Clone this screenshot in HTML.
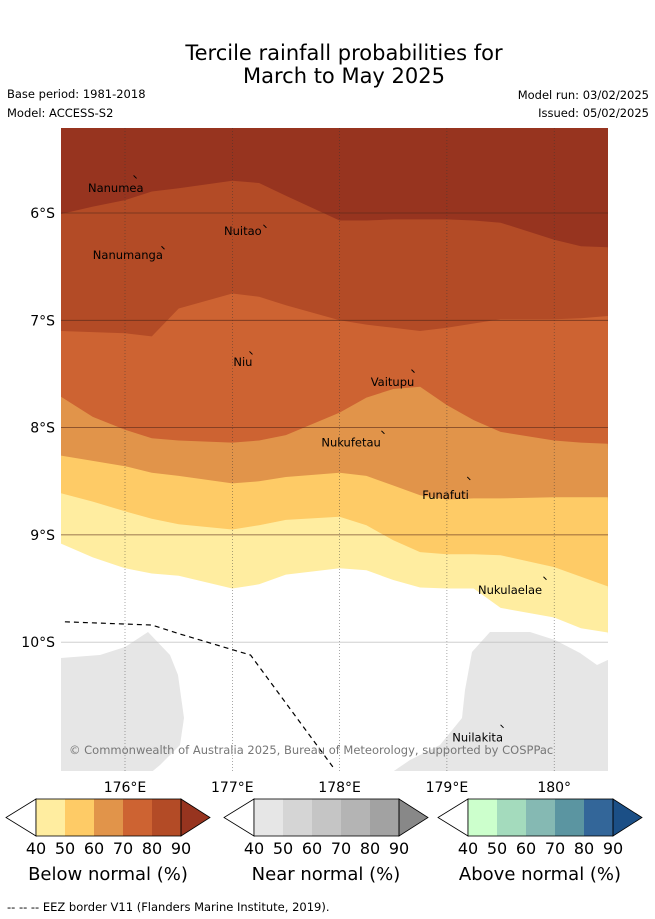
<!DOCTYPE html>
<html><head><meta charset="utf-8">
<style>
body{margin:0;background:#fff;font-family:"Liberation Sans","DejaVu Sans",sans-serif;}
svg{display:block}
text{font-family:"DejaVu Sans","Liberation Sans",sans-serif;}
</style></head>
<body>
<svg id="chart" width="655" height="919" viewBox="0 0 655 919">
<rect width="655" height="919" fill="#fff"/>
<text x="344" y="60" font-size="21" text-anchor="middle">Tercile rainfall probabilities for</text>
<text x="344" y="83" font-size="21" text-anchor="middle">March to May 2025</text>
<text x="7" y="98" font-size="11.5">Base period: 1981-2018</text>
<text x="7" y="117" font-size="11.5">Model: ACCESS-S2</text>
<text x="649" y="99" font-size="11.5" text-anchor="end">Model run: 03/02/2025</text>
<text x="649" y="117" font-size="11.5" text-anchor="end">Issued: 05/02/2025</text>
<defs><clipPath id="mapclip"><rect x="61" y="128" width="547" height="643"/></clipPath></defs>
<g id="map" clip-path="url(#mapclip)"></g>
<g id="axes"></g>
<g id="bars"></g>
<text x="7" y="911" font-size="11.5">-- -- -- EEZ border V11 (Flanders Marine Institute, 2019).</text>
</svg>
<script>
// ---- data ----
const lons = [175.4,175.7,176,176.25,176.5,177,177.25,177.5,178,178.25,178.5,178.75,179,179.25,179.5,180,180.25,180.5];
const b90 = [6.01,5.94,5.88,5.80,5.77,5.70,5.72,5.84,6.07,6.07,6.06,6.06,6.06,6.07,6.09,6.25,6.31,6.32];
const b80 = [7.10,7.11,7.12,7.15,6.89,6.75,6.78,6.86,7.00,7.04,7.07,7.10,7.07,7.03,6.99,6.99,6.98,6.96];
const b70 = [7.71,7.90,8.02,8.10,8.12,8.14,8.12,8.07,7.86,7.72,7.64,7.62,7.79,7.93,8.04,8.12,8.14,8.15];
const b60 = [8.26,8.31,8.36,8.42,8.45,8.52,8.50,8.46,8.42,8.45,8.54,8.63,8.67,8.66,8.66,8.65,8.65,8.65];
const b50 = [8.61,8.69,8.78,8.85,8.90,8.95,8.91,8.86,8.83,8.91,9.05,9.16,9.18,9.18,9.19,9.30,9.39,9.48];
const b40 = [9.08,9.21,9.31,9.36,9.38,9.50,9.46,9.37,9.31,9.33,9.42,9.49,9.50,9.50,9.68,9.77,9.87,9.91];
const lonTicks = [176,177,178,179,180];
const lonTickLabels = ["176°E","177°E","178°E","179°E","180°"];
const latTicks = [6,7,8,9,10];
const latTickLabels = ["6°S","7°S","8°S","9°S","10°S"];
const levels = ["40","50","60","70","80","90"];
const islands = ["Nanumea","Nuitao","Nanumanga","Niu","Vaitupu","Nukufetau","Funafuti","Nukulaelae","Nuilakita"];
const islandLon = [176.08,177.29,176.34,177.16,178.67,178.39,179.19,179.9,179.5];
const islandLat = [5.65,6.11,6.31,7.29,7.46,8.03,8.46,9.39,10.77];
const labelLon = [175.655,176.923,175.70,177.01,178.29,177.83,178.77,179.29,179.05];
const labelLat = [5.767,6.168,6.39,7.39,7.575,8.14,8.63,9.515,10.89];
const eezLon = [175.44,176.25,176.5,177.17,177.95];
const eezLat = [9.81,9.84,9.92,10.12,11.18];

const X = lon => 125 + (lon-176)*107.3;
const Y = lat => 213 + (lat-6)*107.3;
const NS="http://www.w3.org/2000/svg";
function mk(tag,attrs,parent){const e=document.createElementNS(NS,tag);for(const k in attrs)e.setAttribute(k,attrs[k]);parent.appendChild(e);return e;}
const map=document.getElementById('map');
const bands=[b90,b80,b70,b60,b50,b40];
const cols=["#b34b26","#cd6332","#e1944a","#fecb66","#ffeda0"];
const bandNames=["band-80","band-70","band-60","band-50","band-40"];
let bg=mk('rect',{x:61,y:128,width:547,height:643,fill:"#97341f"},map);


function line(arr){return lons.map((l,i)=>X(l).toFixed(1)+","+Y(arr[i]).toFixed(1)).join(" L");}
for(let i=0;i<5;i++){
  const top=line(bands[i]);
  const p=mk('path',{d:"M"+top+" L620,790 L50,790 Z",fill:cols[i]},map);
  
  
}
const wp=mk('path',{d:"M"+line(b40)+" L620,790 L50,790 Z",fill:"#fff"},map);


const g1=mk('path',{d:"M61,658 L100,655 L125,647 L148,632 L170,655 L178,675 L184,718 L180,745 L160,765 L148,775 L61,775 Z",fill:"#e6e6e6"},map);


const g2=mk('path',{d:"M612,658 L597,665 L580,653 L555,640 L530,632 L490,632 L472,652 L465,690 L462,718 L440,745 L410,760 L388,775 L612,775 Z",fill:"#e6e6e6"},map);


lonTicks.forEach(l=>{const g=mk('line',{x1:X(l),x2:X(l),y1:128,y2:771,stroke:"#333","stroke-width":0.6,"stroke-dasharray":"1,2",opacity:0.7},map);

});
latTicks.forEach(l=>{const g=mk('line',{x1:61,x2:608,y1:Y(l),y2:Y(l),stroke:l<10?"#5a2a1a":"#bbb","stroke-width":0.8,opacity:0.8},map);

});
const ez=mk('polyline',{points:eezLon.map((l,i)=>X(l)+","+Y(eezLat[i])).join(" "),fill:"none",stroke:"#000","stroke-width":1.2,"stroke-dasharray":"5,4"},map);


islands.forEach((n,i)=>{
  const m=mk('line',{x1:X(islandLon[i]),y1:Y(islandLat[i]),x2:X(islandLon[i])+3,y2:Y(islandLat[i])+3,stroke:"#000","stroke-width":1},map);
  
  
  const t=mk('text',{x:X(labelLon[i]),y:Y(labelLat[i])+4,"font-size":11.5,fill:"#000"},map);
  t.textContent=n;
  
  
});
const cp=mk('text',{x:69,y:754,"font-size":11.5,fill:"#777"},map);
cp.textContent="© Commonwealth of Australia 2025, Bureau of Meteorology, supported by COSPPac";


const ax=document.getElementById('axes');
lonTicks.forEach((l,i)=>{const t=mk('text',{x:X(l),y:792,"font-size":14,"text-anchor":"middle"},ax);t.textContent=lonTickLabels[i];

});
latTicks.forEach((l,i)=>{const t=mk('text',{x:55,y:Y(l)+5,"font-size":14,"text-anchor":"end"},ax);t.textContent=latTickLabels[i];

});
const bars=document.getElementById('bars');
const cbs=[
 {x:36,name:"Below normal (%)",c:["#ffeda0","#fecb66","#e1944a","#cd6332","#b34b26"],end:"#97341f",id:"below-normal-colorbar"},
 {x:254,name:"Near normal (%)",c:["#e6e6e6","#d5d5d5","#c5c5c5","#b4b4b4","#a2a2a2"],end:"#888888",id:"near-normal-colorbar"},
 {x:468,name:"Above normal (%)",c:["#ccffcc","#a4dbbd","#85b9b3","#5b95a1","#336699"],end:"#1b4f86",id:"above-normal-colorbar"}];
cbs.forEach(cb=>{
  const g=mk('g',{},bars);
  
  
  const w=29,y0=799,y1=836;
  mk('polygon',{points:`${cb.x},${y0} ${cb.x-30},${(y0+y1)/2} ${cb.x},${y1}`,fill:"#fff",stroke:"#000","stroke-width":0.8},g);
  cb.c.forEach((c,i)=>mk('rect',{x:cb.x+i*w,y:y0,width:w,height:y1-y0,fill:c},g));
  const e=cb.x+5*w;
  mk('polygon',{points:`${e},${y0} ${e+29},${(y0+y1)/2} ${e},${y1}`,fill:cb.end,stroke:"#000","stroke-width":0.8},g);
  mk('rect',{x:cb.x,y:y0,width:5*w,height:y1-y0,fill:"none",stroke:"#000","stroke-width":0.8},g);
  levels.forEach((lv,i)=>{const t=mk('text',{x:cb.x+i*w,y:854,"font-size":16,"text-anchor":"middle"},g);t.textContent=lv;
  
  });
  const t=mk('text',{x:cb.x+72,y:880,"font-size":18,"text-anchor":"middle"},g);t.textContent=cb.name;
  
  
});
</script>
</body></html>
